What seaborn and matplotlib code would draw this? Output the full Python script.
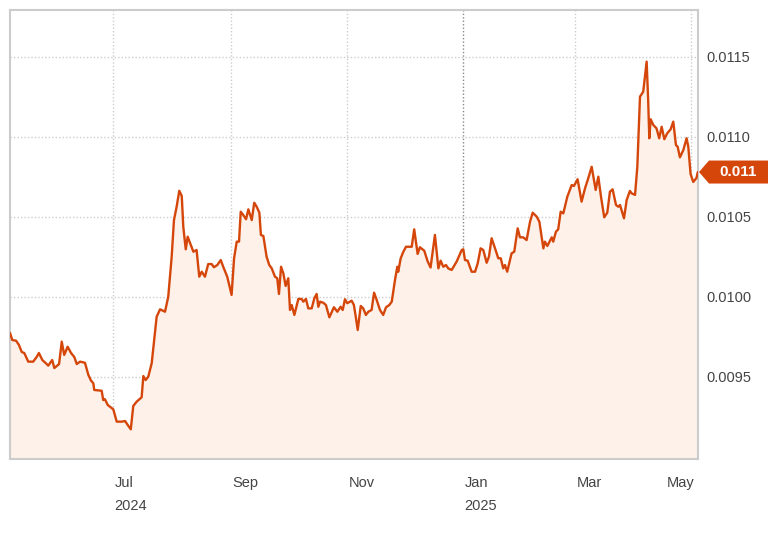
import matplotlib
matplotlib.use("Agg")
import matplotlib.pyplot as plt
from matplotlib.patches import Polygon
from matplotlib.transforms import blended_transform_factory, ScaledTranslation, Affine2D
import pandas as pd
import seaborn as sns

# days after 2024-05-08
start_date = pd.Timestamp("2024-05-08")
day_offset = [
    0, 1.2, 3.2, 4.7, 6.2, 7.5, 9.6, 12.2, 14.0, 15.2,
    17.0, 19.3, 20.1, 22.2, 23.3, 25.8, 27.2, 28.5, 30.3, 32.1,
    33.8, 35.1, 36.8, 39.4, 41.2, 42.6, 43.8, 44.3, 48.2, 49.0,
    49.9, 51.4, 54.3, 56.1, 58.7, 60.5, 61.9, 63.5, 64.8, 66.6,
    69.2, 70.1, 71.3, 72.7, 74.5, 77.1, 78.9, 81.5, 83.2, 85.0,
    86.2, 87.6, 89.0, 90.3, 91.1, 92.4, 93.4, 94.6, 96.4, 98.1,
    99.5, 100.8, 102.5, 104.2, 106.0, 107.2, 109.0, 110.8, 112.1, 114.2,
    116.5, 117.8, 119.2, 120.4, 121.3, 122.6, 124.1, 125.3, 127.1, 128.4,
    129.7, 131.1, 131.9, 133.2, 134.9, 136.3, 137.6, 139.3, 140.5, 141.4,
    142.5, 143.7, 144.9, 146.3, 147.2, 148.1, 149.5, 151.6, 153.3, 154.2,
    155.6, 156.8, 158.6, 160.0, 161.2, 162.1, 163.0, 164.7, 166.1, 167.9,
    170.3, 172.1, 173.8, 174.9, 176.1, 177.3, 179.6, 180.8, 181.9, 182.8,
    184.4, 185.7, 187.1, 188.4, 190.1, 191.4, 192.8, 194.5, 196.2, 197.7,
    199.4, 200.7, 202.4, 203.6, 204.1, 205.4, 206.8, 208.2, 211.2, 212.5,
    214.3, 215.5, 217.8, 219.5, 221.1, 223.4, 225.2, 226.4, 227.8, 229.2,
    230.4, 232.2, 234.8, 237.5, 238.3, 239.2, 240.6, 242.7, 244.5, 245.9,
    247.4, 248.8, 250.6, 251.8, 253.2, 255.0, 256.7, 258.0, 259.3, 260.2,
    261.4, 263.7, 265.1, 266.9, 268.1, 269.8, 271.6, 273.4, 274.8, 276.9,
    278.3, 280.4, 281.2, 282.5, 284.8, 285.6, 287.0, 288.2, 289.5, 290.9,
    293.0, 295.3, 296.5, 298.4, 300.5, 302.3, 304.0, 305.8, 307.9, 309.3,
    310.7, 312.4, 314.0, 315.4, 316.8, 318.6, 319.8, 320.7, 322.8, 324.2,
    325.9, 326.8, 328.6, 329.8, 331.2, 332.9, 334.7, 335.5, 336.1, 336.8,
    338.2, 339.9, 341.3, 342.6, 344.0, 345.5, 347.3, 348.7, 350.1, 351.0,
    352.2, 354.0, 355.7, 356.6, 357.8, 359.2, 360.9, 361.6,
]
rate = [
    0.009775, 0.009731, 0.009727, 0.009700, 0.009656, 0.009650, 0.009596, 0.009596, 0.009625, 0.009650,
    0.009606, 0.009581, 0.009571, 0.009606, 0.009556, 0.009581, 0.009721, 0.009638, 0.009689, 0.009650,
    0.009625, 0.009581, 0.009596, 0.009589, 0.009513, 0.009477, 0.009461, 0.009419, 0.009414, 0.009356,
    0.009361, 0.009325, 0.009298, 0.009221, 0.009221, 0.009225, 0.009200, 0.009173, 0.009319, 0.009346,
    0.009373, 0.009506, 0.009481, 0.009502, 0.009586, 0.009877, 0.009923, 0.009908, 0.010002, 0.010252,
    0.010481, 0.010564, 0.010664, 0.010631, 0.010439, 0.010298, 0.010377, 0.010339, 0.010283, 0.010294,
    0.010127, 0.010158, 0.010127, 0.010206, 0.010206, 0.010186, 0.010200, 0.010231, 0.010189, 0.010127,
    0.010013, 0.010242, 0.010346, 0.010346, 0.010533, 0.010513, 0.010486, 0.010548, 0.010481, 0.010589,
    0.010564, 0.010527, 0.010388, 0.010381, 0.010252, 0.010200, 0.010179, 0.010127, 0.010117, 0.010019,
    0.010189, 0.010148, 0.010069, 0.010117, 0.009919, 0.009950, 0.009888, 0.009988, 0.009988, 0.009971,
    0.009988, 0.009929, 0.009929, 0.009992, 0.010019, 0.009939, 0.009971, 0.009964, 0.009950, 0.009873,
    0.009936, 0.009908, 0.009939, 0.009919, 0.009986, 0.009961, 0.009977, 0.009950, 0.009867, 0.009794,
    0.009944, 0.009929, 0.009888, 0.009908, 0.009919, 0.010027, 0.009981, 0.009919, 0.009888, 0.009936,
    0.009950, 0.009971, 0.010106, 0.010189, 0.010158, 0.010242, 0.010283, 0.010314, 0.010314, 0.010423,
    0.010269, 0.010311, 0.010289, 0.010225, 0.010184, 0.010388, 0.010179, 0.010227, 0.010189, 0.010200,
    0.010179, 0.010169, 0.010221, 0.010294, 0.010298, 0.010231, 0.010227, 0.010158, 0.010158, 0.010211,
    0.010304, 0.010294, 0.010214, 0.010252, 0.010367, 0.010304, 0.010242, 0.010242, 0.010179, 0.010200,
    0.010158, 0.010273, 0.010283, 0.010429, 0.010373, 0.010373, 0.010356, 0.010471, 0.010527, 0.010502,
    0.010471, 0.010304, 0.010346, 0.010319, 0.010373, 0.010346, 0.010408, 0.010423, 0.010533, 0.010523,
    0.010627, 0.010700, 0.010694, 0.010736, 0.010596, 0.010679, 0.010742, 0.010814, 0.010669, 0.010752,
    0.010627, 0.010498, 0.010527, 0.010658, 0.010673, 0.010575, 0.010564, 0.010575, 0.010492, 0.010606,
    0.010663, 0.010648, 0.010638, 0.010814, 0.011252, 0.011283, 0.011471, 0.011231, 0.010992, 0.011111,
    0.011075, 0.011054, 0.010992, 0.011064, 0.010986, 0.011023, 0.011048, 0.011096, 0.010950, 0.010939,
    0.010873, 0.010919, 0.010992, 0.010939, 0.010769, 0.010719, 0.010744, 0.010781,
]

y_ticks = [0.0095, 0.0100, 0.0105, 0.0110, 0.0115]
x_ticks = ["2024-07-01", "2024-09-01", "2024-11-01", "2025-01-01", "2025-03-01", "2025-05-01"]
x_labels = ["Jul\n2024", "Sep", "Nov", "Jan\n2025", "Mar", "May"]
last_label = "0.011"

LINE = "#d5460a"
FILL = "#fdf1e9"
GRID = "#cccccc"
TEXT = "#444444"

sns.set_style("white")
plt.rcParams['font.family'] = ['Liberation Sans', 'DejaVu Sans']

df = pd.DataFrame({
    "date": start_date + pd.to_timedelta(day_offset, unit="D"),
    "rate": rate,
})

fig = plt.figure(figsize=(7.83, 5.34), dpi=100)
ax = fig.add_axes([10 / 783, 75 / 534, 688 / 783, 449 / 534])

y_low, y_high = 0.0089875, 0.01179375
ax.fill_between(df["date"], df["rate"], y_low, color=FILL, linewidth=0, zorder=2)
sns.lineplot(data=df, x="date", y="rate", ax=ax, color=LINE, linewidth=1.7, zorder=3)

ax.set_xlim(start_date, start_date + pd.Timedelta(days=361.7))
ax.set_ylim(y_low, y_high)
ax.set_xlabel("")
ax.set_ylabel("")

# y axis on the right
ax.yaxis.tick_right()
ax.set_yticks(y_ticks)
ax.set_yticklabels([f"{v:.4f}" for v in y_ticks])
ax.tick_params(axis="y", length=0, pad=6, labelsize=10.5, labelcolor=TEXT)

ax.set_xticks(pd.to_datetime(x_ticks))
ax.set_xticklabels(x_labels, linespacing=1.75)
ax.tick_params(axis="x", length=0, pad=12.5, labelsize=10.5, labelcolor=TEXT)
for i, lab in enumerate(ax.get_xticklabels()):
    if i == len(x_labels) - 1:
        lab.set_ha("right")
        lab.set_transform(lab.get_transform() + ScaledTranslation(4 / 100, 0, fig.dpi_scale_trans))
    else:
        lab.set_ha("left")
        lab.set_transform(lab.get_transform() + ScaledTranslation(2 / 100, 0, fig.dpi_scale_trans))

ax.set_axisbelow(True)
ax.grid(True, color=GRID, linestyle=(0, (1, 1.5)), linewidth=1)
ax.xaxis.get_gridlines()[3].set_color("#8a8a8a")

for s in ax.spines.values():
    s.set_visible(True)
    s.set_color(GRID)
    s.set_linewidth(1.5)

# last value marker on the right
base = blended_transform_factory(ax.transAxes, ax.transData)
last_v = rate[-1]
shape = Affine2D() + ScaledTranslation(1, last_v, base)
tag = Polygon([(1, 0), (11, 11.5), (70, 11.5), (70, -11.5), (11, -11.5)],
              closed=True, facecolor=LINE, edgecolor="none",
              transform=shape, clip_on=False, zorder=5)
ax.add_patch(tag)
ax.annotate(last_label, xy=(1, last_v), xycoords=base,
            xytext=(40.5 * 0.72, 0), textcoords="offset points",
            ha="center", va="center", color="white",
            fontsize=11, fontweight="bold", zorder=6)

fig.savefig("out.png", dpi=100)
